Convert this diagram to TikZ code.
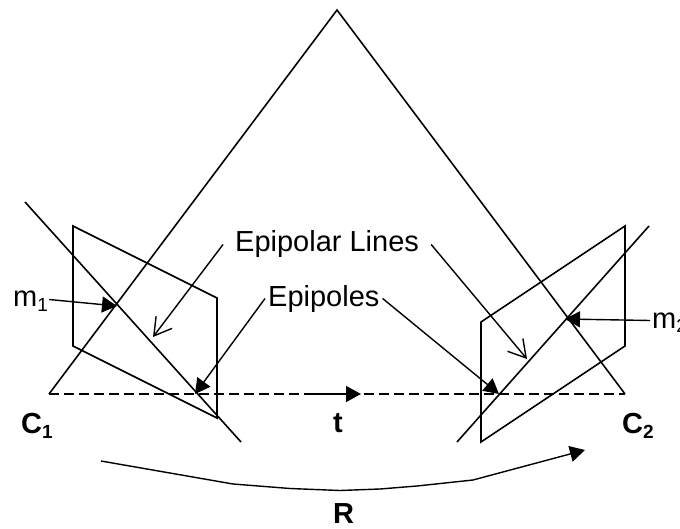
\documentclass[tikz,border=0pt]{standalone}
\usepackage{fontspec}
\setmainfont{Liberation Sans}
\usetikzlibrary{arrows.meta}
\newcommand{\lowsub}[1]{\raisebox{-5pt}{\fontsize{19}{19}\selectfont #1}}
\tikzset{
    line/.style={black, line width=1.6pt, line join=miter},
    solidtip/.style={line, line width=1.4pt, -{Triangle[length=15pt,width=16pt]}},
    opentip/.style={line, line width=1.4pt, -{Straight Barb[length=17pt,width=20pt,line width=1.4pt]}},
    txt/.style={anchor=base west, inner ysep=0pt, text height=21pt, text depth=6pt, font=\fontsize{29}{32}\selectfont},
    boldtxt/.style={txt, inner xsep=0pt, font=\fontsize{29}{32}\selectfont\bfseries}
}
\begin{document}
\begin{tikzpicture}[x=1pt, y=-1pt]
    \useasboundingbox (0,0) rectangle (680,529);

    \coordinate (apex) at (337,10);
    \coordinate (c1) at (49,394);
    \coordinate (c2) at (625,394);
    \coordinate (tstart) at (313,394);
    \coordinate (ttip) at (361,394);

    % big triangle and the baseline
    \draw[line] (c1) -- (apex) -- (c2);
    \draw[line, line width=1.3pt, dash pattern=on 10pt off 5pt] (c1) -- (c2);
    \draw[solidtip] (tstart) -- (ttip);

    % image planes
    \draw[line] (73,226) -- (217,298) -- (217,418) -- (73,346) -- cycle;
    \draw[line] (481,322) -- (625,226) -- (625,346) -- (481,442) -- cycle;

    % epipolar lines in the planes
    \coordinate (la) at (25,202);
    \coordinate (lb) at (241,442);
    \coordinate (ra) at (649,226);
    \coordinate (rb) at (457,442);
    \draw[line] (la) -- (lb);
    \draw[line] (ra) -- (rb);

    \node[txt, inner xsep=12pt] (lines) at (223,252) {Epipolar Lines};
    \node[txt, inner xsep=3pt] (poles) at (265,306) {Epipoles};
    \node[txt, inner xsep=1pt] (m1) at (12,307) {m\lowsub{1}};
    \node[txt, inner xsep=2pt] (m2) at (650,328) {m\lowsub{2}};
    \node[boldtxt] (c1text) at (21,433) {C\lowsub{1}};
    \node[boldtxt] (c2text) at (622,433) {C\lowsub{2}};
    \node[boldtxt] (ttext) at (333,432) {t};
    \node[boldtxt] (rtext) at (333,523) {R};

    \coordinate (m1pt) at (117,306);
    \coordinate (m2pt) at (565,319);
    \coordinate (pole1) at (195,394);
    \coordinate (pole2) at (499,394);
    \coordinate (line1) at (153,337);
    \coordinate (line2) at (527,359);

    \draw[solidtip] (m1.east) -- (m1pt);
    \draw[solidtip] (m2.west) -- (m2pt);
    \draw[solidtip] (poles.west) -- (pole1);
    \draw[solidtip] (poles.east) -- (pole2);
    \draw[opentip] (lines.west) -- (line1);
    \draw[opentip] (lines.east) -- (line2);

    % rotation arrow
    \draw[solidtip] (101,461) -- (233,484) -- (290,488.5) -- (340,490.5) -- (380,489) -- (417,486) -- (473,480) -- (585,450);
\end{tikzpicture}
\end{document}
